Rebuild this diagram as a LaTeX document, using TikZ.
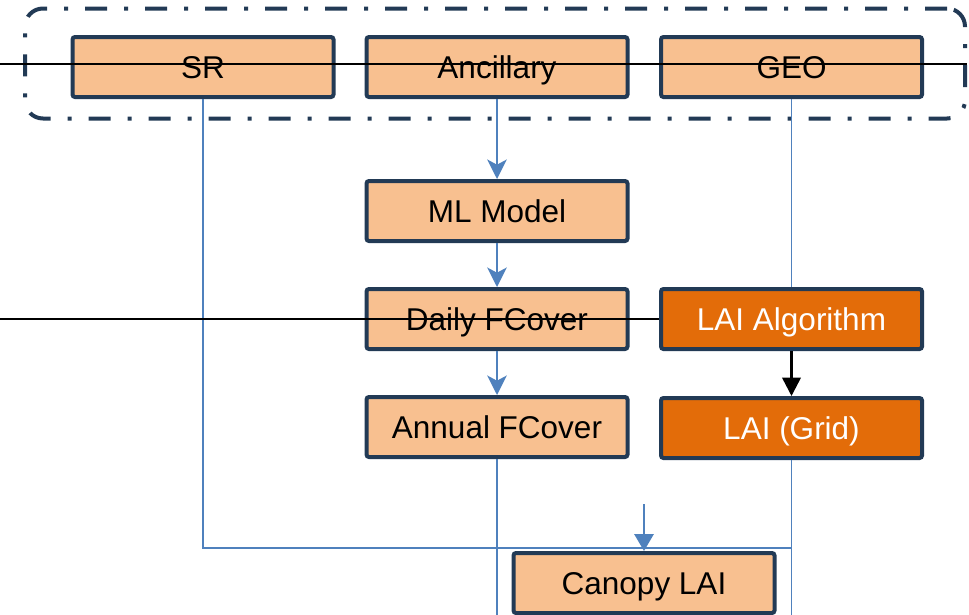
\documentclass[tikz,border=0pt]{standalone}
\usepackage{fontspec}
\setmainfont{Liberation Sans}
\usetikzlibrary{arrows.meta}
\definecolor{navy}{HTML}{223A55}
\definecolor{lightor}{HTML}{F8C090}
\definecolor{darkor}{HTML}{E36C09}
\definecolor{linkblue}{HTML}{4F81BD}
\tikzset{
  box/.style={draw=navy, line width=4pt, rounded corners=2.5pt, fill=lightor,
    minimum width=261pt, minimum height=60pt, inner sep=0pt,
    text height=22.5pt, text depth=0pt,
    font=\fontsize{31.5}{36}\selectfont, text=black},
  darkbox/.style={box, fill=darkor, text=white},
  frame/.style={draw=navy, line width=4pt, rounded corners=18pt,
    dash pattern=on 22pt off 17pt on 4pt off 17pt,
    minimum width=940pt, minimum height=110pt, inner sep=0pt},
  blink/.style={draw=linkblue, line width=1.8pt},
  barrow/.style={blink, -{Stealth[length=15pt,width=15pt,inset=4pt,scale=1.3]}},
  carrow/.style={blink, -{Triangle[length=14pt,width=16pt,scale=1.2]}},
  karrow/.style={draw=black, line width=2.5pt, -{Triangle[length=16pt,width=16pt,scale=1.15]}},
  kline/.style={draw=black, line width=2.5pt}
}
\begin{document}
\begin{tikzpicture}[x=1pt,y=-1pt]
\useasboundingbox (0,0) rectangle (969,614);
% frame
\node[frame] (grp) at (495,63.5) {};
% nodes
\node[box] (sr) at (203,67) {SR};
\node[box] (anc) at (497,67) {Ancillary};
\node[box] (geo) at (791.5,67) {GEO};
\node[box] (ml) at (497,211) {ML Model};
\node[box] (daily) at (497,319) {Daily FCover};
\node[box] (annual) at (497,427) {Annual FCover};
\node[darkbox] (alg) at (791.5,319) {LAI Algorithm};
\node[darkbox] (grid) at (791.5,428) {LAI (Grid)};
\node[box] (canopy) at (644,583) {Canopy LAI};
% coordinates
\coordinate (j) at (792,548);
\coordinate (ca) at (644,504);
\coordinate (bot1) at (497,620);
\coordinate (bot2) at (791.5,620);
\coordinate (l1) at (0,64);
\coordinate (l2) at (0,319);
% blue connectors
\draw[blink] (sr.south) |- (j);
\draw[blink] (geo.south) -- (alg.north);
\draw[blink] (grid.south) -- (bot2);
\draw[blink] (annual.south) -- (bot1);
\draw[barrow] (anc.south) -- (ml.north);
\draw[barrow] (ml.south) -- (daily.north);
\draw[barrow] (daily.south) -- (annual.north);
\draw[carrow] (ca) -- (canopy.north);
\draw[karrow] (alg.south) -- (grid.north);
% black lines
\draw[kline] (l1) -- (l1 -| grp.east);
\draw[kline] (l2) -- (alg.west);
\end{tikzpicture}
\end{document}
